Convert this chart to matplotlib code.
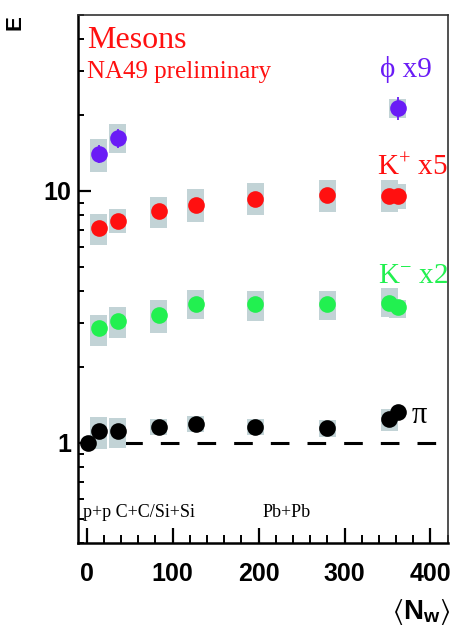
import numpy as np
import matplotlib
matplotlib.use('Agg')
import matplotlib.pyplot as plt
from matplotlib.ticker import FixedLocator, FixedFormatter, NullFormatter, LogLocator, MultipleLocator

plt.rcParams['mathtext.fontset'] = 'custom'
plt.rcParams['mathtext.rm'] = 'Liberation Serif'
plt.rcParams['mathtext.it'] = 'Liberation Serif:italic'
plt.rcParams['mathtext.bf'] = 'Liberation Sans:bold'
plt.rcParams['mathtext.fallback'] = 'stix'

# N_w positions (C+C, Si+Si, then Pb+Pb centralities)
nw = [14, 36, 84, 127, 196, 280, 352, 362]

# pions (first point is p+p)
nw_pi = [2] + nw
pi_val = [1.0, 1.116, 1.109, 1.16, 1.186, 1.16, 1.143, 1.248, 1.331]
pi_sys_lo = [np.nan, 0.944, 0.953, 1.076, 1.099, 1.076, 1.053, 1.119, np.nan]
pi_sys_hi = [np.nan, 1.27, 1.25, 1.245, 1.28, 1.24, 1.234, 1.36, np.nan]

# K+ x5
kp_val = [7.10, 7.59, 8.31, 8.83, 9.33, 9.68, 9.53, 9.53]
kp_sys_lo = [6.09, 6.78, 7.10, 7.54, 8.01, 8.26, 8.26, 8.52]
kp_sys_hi = [8.14, 8.46, 9.47, 10.15, 10.76, 11.02, 11.02, 10.7]

# K- x2
km_val = [2.85, 3.04, 3.21, 3.56, 3.55, 3.56, 3.60, 3.45]
km_sys_lo = [2.43, 2.61, 2.74, 3.09, 3.05, 3.06, 3.15, 3.12]
km_sys_hi = [3.22, 3.45, 3.69, 4.06, 4.00, 4.00, 4.10, 3.69]

# phi x9
nw_phi = [14, 36, 362]
phi_val = [14.07, 16.28, 21.4]
phi_err = [1.2, 1.4, 2.2]
phi_sys_lo = [11.89, 14.2, 19.54]
phi_sys_hi = [16.13, 18.37, 23.1]

RED = '#ff1010'
GREEN = '#22f050'
PURPLE = '#6a1cf6'
BOX = '#c2d3d6'
BOXW = 20

fig = plt.figure(figsize=(4.62, 6.38), dpi=100)
ax = fig.add_axes([0.168, 0.1489, 0.801, 0.8276])
ax.set_yscale('log')
ax.set_xlim(-10.5, 420)
ax.set_ylim(0.4, 50)

# dashed reference line at 1
ax.plot([0, 406], [1, 1], color='black', lw=2.2, dashes=(6.1, 5.9), zorder=1)

def sys_boxes(x, lo, hi):
    x = np.asarray(x, float)
    lo = np.asarray(lo, float)
    hi = np.asarray(hi, float)
    ok = ~np.isnan(lo)
    ax.bar(x[ok], hi[ok] - lo[ok], bottom=lo[ok], width=BOXW, color=BOX,
           linewidth=0, zorder=2)

sys_boxes(nw_pi, pi_sys_lo, pi_sys_hi)
sys_boxes(nw, kp_sys_lo, kp_sys_hi)
sys_boxes(nw, km_sys_lo, km_sys_hi)
sys_boxes(nw_phi, phi_sys_lo, phi_sys_hi)

ms = 12
ax.plot(nw_pi, pi_val, 'o', color='black', ms=ms, mew=0, zorder=3)
ax.plot(nw, kp_val, 'o', color=RED, ms=ms, mew=0, zorder=3)
ax.plot(nw, km_val, 'o', color=GREEN, ms=ms, mew=0, zorder=3)
ax.errorbar(nw_phi, phi_val, yerr=phi_err, fmt='o', color=PURPLE, ms=ms, mew=0,
            elinewidth=1.3, capsize=2.5, capthick=1.3, zorder=3)

# axes styling
for s in ['left', 'bottom']:
    ax.spines[s].set_linewidth(1.8)
for s in ['top', 'right']:
    ax.spines[s].set_linewidth(1.2)
    ax.spines[s].set_color('#333333')

ax.yaxis.set_major_locator(FixedLocator([1, 10]))
ax.yaxis.set_major_formatter(FixedFormatter(['1', '10']))
ax.yaxis.set_minor_locator(LogLocator(base=10, subs=np.arange(2, 10)))
ax.yaxis.set_minor_formatter(NullFormatter())
ax.xaxis.set_major_locator(MultipleLocator(100))
ax.xaxis.set_minor_locator(MultipleLocator(20))

tick_font = dict(family='Liberation Sans', weight='bold', size=18)
ax.tick_params(axis='both', which='both', direction='in', top=False, right=False)
ax.tick_params(axis='x', which='major', length=10.8, width=1.6, pad=13.5)
ax.tick_params(axis='x', which='minor', length=6, width=1.4)
ax.tick_params(axis='y', which='major', length=9, width=1.6, pad=4.3)
ax.tick_params(axis='y', which='minor', length=4.5, width=1.4)
for lab in ax.get_xticklabels() + ax.get_yticklabels():
    lab.set_fontproperties(matplotlib.font_manager.FontProperties(**tick_font))

# axis titles
fig.text(15.3 / 462, 1 - 23 / 638, 'E', rotation=90, ha='center', va='center',
         family='Liberation Sans', weight='bold', size=16)
fig.text(421 / 462, 1 - 612 / 638, r'$\langle\mathbf{N}_{\mathbf{w}}\rangle$',
         ha='center', va='center', size=20)

serif = ['Liberation Serif', 'DejaVu Serif']
def atext(px, py, s, **kw):
    ax.text((px - 77.7) / 370, (543 - py) / 528, s, transform=ax.transAxes,
            va='baseline', ha='left', family=serif, **kw)

atext(87.3, 48.3, 'Mesons', color=RED, size=23)
atext(87.3, 78.3, 'NA49 preliminary', color=RED, size=18)
atext(380, 76.7, 'ϕ x9', color=PURPLE, size=21)
atext(377.3, 175, r'K$^{+}$ x5', color=RED, size=21)
atext(378.3, 283.3, r'K$^{-}$ x2', color=GREEN, size=21)
atext(411.7, 423.3, 'π', color='black', size=22)
atext(82.7, 516.7, 'p+p C+C/Si+Si', color='black', size=13)
atext(262.7, 516.7, 'Pb+Pb', color='black', size=13)

fig.savefig('out.png', dpi=100)
